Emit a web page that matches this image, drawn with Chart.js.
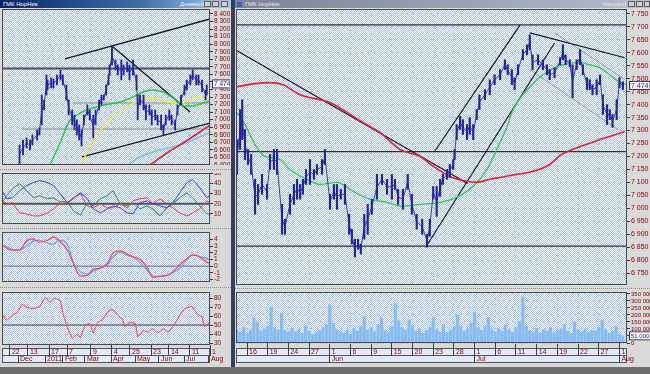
<!DOCTYPE html>
<html lang="ru">
<head>
<meta charset="utf-8">
<title>ГМК НорНик</title>
<script src="https://cdn.jsdelivr.net/npm/chart.js@4.4.1/dist/chart.umd.min.js"></script>
<style>
  html, body { margin: 0; padding: 0; }
  body { width: 650px; height: 374px; overflow: hidden; position: relative; background: #c4c4c4;
         font-family: 'Liberation Sans', 'DejaVu Sans', sans-serif; }
  .abs { position: absolute; }
  .win { top: 0; height: 367px; background: #d9d9d9; }
  .title { top: 0; height: 8px; font-size: 6px; line-height: 8px; white-space: nowrap; overflow: hidden; }
  .btn { top: 1px; width: 7px; height: 6px; background: #d4d0c8; border: 1px solid #606060; box-sizing: border-box; }
  .strip { background: #e2e9fa; border: 1px solid #555; box-sizing: border-box; }
  .sep { height: 0; border-top: 1px dotted #8a8a8a; }
  canvas { position: absolute; }
</style>
</head>
<body>
<div class="abs win" style="left:0;width:231px"></div>
<div class="abs win" style="left:234px;width:416px"></div>
<div class="abs" style="left:231px;top:0;width:4px;height:367px;background:#34405a"></div>

<div class="abs title" style="left:0;width:231px;background:linear-gradient(90deg,#0a246a,#3a6ea5 60%,#a6caf0);color:#fff">
  <span style="padding-left:3px">ГМК НорНик</span>
  <span style="position:absolute;right:27px;color:#f0f0f0">Дневной</span>
</div>
<div class="abs btn" style="left:204px"></div>
<div class="abs btn" style="left:212px"></div>
<div class="abs btn" style="left:221px"></div>

<div class="abs title" style="left:235px;width:415px;background:linear-gradient(90deg,#7a8296,#b4bccc);color:#e8e8e8">
  <span style="display:inline-block;width:5px;height:5px;margin:0 3px 0 2px;background:#4060c0;vertical-align:middle"></span>ГМК НорНик
  <span style="position:absolute;right:24px">Часовой</span>
</div>
<div class="abs btn" style="left:628px"></div>
<div class="abs btn" style="left:636px"></div>
<div class="abs btn" style="left:644px;width:6px"></div>

<div class="abs sep" style="left:0;top:169px;width:231px"></div>
<div class="abs sep" style="left:0;top:228px;width:231px"></div>
<div class="abs sep" style="left:0;top:287px;width:231px"></div>
<div class="abs sep" style="left:235px;top:288px;width:415px"></div>

<div class="abs strip" style="left:2px;top:348px;width:208px;height:8px"></div>
<div class="abs strip" style="left:2px;top:355px;width:208px;height:8px"></div>
<div class="abs strip" style="left:236px;top:348px;width:391px;height:8px"></div>
<div class="abs strip" style="left:236px;top:355px;width:391px;height:8px"></div>
<div class="abs" style="left:0;top:367px;width:650px;height:7px;background:#6e6e6e"></div>

<canvas id="lp" width="228" height="156" style="left:2px;top:9px"></canvas>
<canvas id="lo1" width="228" height="51" style="left:2px;top:173px"></canvas>
<canvas id="lo2" width="228" height="50" style="left:2px;top:232px"></canvas>
<canvas id="lr" width="228" height="71" style="left:2px;top:292px"></canvas>
<canvas id="rp" width="414" height="276" style="left:236px;top:9px"></canvas>
<canvas id="rv" width="414" height="71" style="left:236px;top:292px"></canvas>

<script>
// ---------- daily window (left) ----------
var dayTickIdx = [6.8, 22.2, 40.2, 55.6, 76, 94, 109.4, 127.4, 142.7, 160.7, 177.8];
var dayTickLabels = ['22', '13', '17', '7', '9', '4', '25', '23', '14', '11', '1'];
var monthTickIdx = [13.7, 36.8, 52.1, 70.9, 93.2, 113.7, 134.2, 155.6, 176.9];
var monthTickLabels = ['Dec', '2011', 'Feb', 'Mar', 'Apr', 'May', 'Jun', 'Jul', 'Aug'];
var dayPriceTicks = [6400, 6500, 6600, 6700, 6800, 6900, 7000, 7100, 7200, 7300, 7400, 7500,
  7600, 7700, 7800, 7900, 8000, 8100, 8200, 8300, 8400];

var dayBarIdx = [15, 18, 21, 24, 26, 30, 32, 34, 36, 38, 39, 42, 44, 47, 50, 52, 55, 57, 60, 62,
  64, 66, 68, 70, 73, 75, 78, 80, 83, 85, 87, 89, 91, 92, 94, 97, 99, 102, 104, 107,
  109, 112, 115, 116, 118, 121, 123, 126, 128, 131, 133, 136, 138, 140, 143, 145, 148, 150, 153, 156,
  158, 161, 163, 166, 168, 171, 174, 175];
var dayBarHigh = [6665, 6731, 6758, 6731, 6797, 6864, 6890, 7327, 7261, 7592, 7526, 7552, 7540, 7592, 7658, 7592, 7460, 7261, 7129, 7062,
  6996, 6930, 6864, 7062, 7195, 7129, 7062, 7129, 7261, 7327, 7327, 7460, 7592, 7725, 7976, 7791, 7725, 7791, 7725, 7764,
  7725, 7791, 7592, 7327, 7327, 7327, 7195, 7195, 7129, 7129, 7062, 7062, 6930, 7062, 7129, 7062, 6996, 7195, 7327, 7460,
  7526, 7592, 7658, 7592, 7592, 7526, 7393, 7460];
var dayBarLow = [6420, 6532, 6625, 6599, 6665, 6731, 6797, 6930, 7129, 7327, 7393, 7420, 7420, 7460, 7526, 7460, 7261, 7062, 6930, 6864,
  6797, 6731, 6652, 6930, 7062, 6996, 6758, 6930, 7129, 7195, 7261, 7327, 7460, 7592, 7725, 7658, 7592, 7526, 7592, 7632,
  7526, 7592, 7393, 6996, 7195, 7129, 6996, 7062, 6930, 6996, 6930, 6864, 6797, 6930, 6996, 6930, 6864, 7062, 7195, 7327,
  7393, 7460, 7526, 7460, 7460, 7367, 7261, 7327];

var dayGreenMA = [[41, 6400], [49.6, 6691], [58.1, 6996], [64.1, 7062], [72.6, 7129], [83.8, 7181], [92.3, 7208],
  [100.9, 7234], [112, 7301], [120.5, 7367], [129.1, 7393], [137.6, 7367], [146.2, 7287], [154.7, 7181],
  [163.2, 7181], [171.8, 7221], [177.8, 7248]];
var dayYellowMA = [[68.4, 6427], [77.8, 6731], [92.3, 6996], [106.8, 7168], [117.9, 7261], [129.1, 7287],
  [141, 7234], [152.1, 7221], [160.7, 7261], [169.2, 7301], [177.8, 7327]];
var dayRedMA = [[126.5, 6400], [141, 6559], [154.7, 6691], [169.2, 6837], [177.8, 6930]];
var dayBlueMA = [[107.7, 6400], [117.9, 6506], [135, 6599], [152.1, 6665], [169.2, 6771], [177.8, 6837]];
var dayTrendLines = [[[53.8, 7804], [177.8, 8334]], [[94, 7976], [160.7, 7102]], [[68.4, 6506], [177.8, 6956]]];
var dayHeavyLevel = 7678;
var dayLightLevels = [[60.7, 7221], [17.1, 6877]];
var lastPrice = 7474;

var oscIdx = [0, 4, 9, 15, 21, 27, 32, 39, 44, 49, 56, 61, 67, 73, 78, 84, 90, 95, 101, 107,
  112, 118, 124, 129, 135, 141, 146, 152, 158, 163, 169, 175, 178];
var dmiBlue = [33, 25, 26, 33, 38, 41, 43, 41, 38, 31, 21, 25, 31, 25, 15, 11, 15, 18, 16, 11,
  10, 21, 23, 20, 18, 16, 21, 31, 41, 44, 36, 26, 28];
var dmiGreen = [21, 28, 35, 40, 33, 26, 28, 25, 26, 22, 22, 13, 9, 21, 18, 25, 28, 33, 20, 18,
  21, 15, 18, 15, 8, 16, 20, 26, 31, 26, 18, 10, 10];
var dmiRed = [23, 20, 21, 11, 10, 8, 8, 11, 15, 20, 21, 26, 30, 18, 16, 20, 16, 16, 20, 16,
  23, 25, 26, 20, 25, 20, 16, 11, 8, 11, 15, 23, 21];
var macdRed = [3.2, 2.7, 2.4, 2.4, 3.8, 4.1, 3.6, 3.9, 4.4, 3.8, 2.4, 0.4, -1.5, -1.4, -0.5, -0.3, 0.4, 2.0, 2.3, 1.8,
  1.4, 1.0, -0.2, -1.7, -1.5, -1.4, -0.9, 0.2, 1.1, 1.7, 1.4, 0.6, 0.4];
var macdBlue = [3.2, 2.9, 2.5, 2.4, 3.0, 3.8, 3.9, 3.5, 3.3, 3.9, 3.2, 0.5, -0.9, -1.2, -0.8, -0.3, 0.2, 1.4, 2.1, 1.6,
  1.4, 0.6, -0.6, -1.5, -1.6, -1.4, -1.0, -0.3, 1.0, 1.7, 1.4, 1.2, 0.9];
var rsi = [[0, 62], [4, 55], [9, 61], [13, 64], [17, 73], [21, 70], [26, 68], [32, 70], [37, 81], [41, 75],
  [45, 80], [50, 77], [52, 63], [56, 47], [60, 35], [64, 40], [67, 36], [71, 50], [75, 52], [78, 41],
  [82, 53], [86, 56], [90, 64], [94, 68], [98, 62], [103, 56], [105, 48], [109, 53], [114, 52], [116, 37],
  [121, 44], [125, 42], [129, 46], [133, 41], [138, 46], [142, 42], [146, 48], [152, 61], [156, 68], [162, 71],
  [167, 62], [171, 59], [173, 48], [178, 53]];

// ---------- hourly window (right) ----------
var hourTickDay = [0, 3, 6, 9, 12, 15, 18, 21, 24, 27, 30, 33, 36, 39, 42, 45, 48, 51, 54];
var hourTickLabels = ['16', '19', '24', '27', '1', '6', '9', '15', '20', '23', '28', '1', '6', '11', '14', '19', '22', '27', '1'];
var hourMonthDay = [12, 33, 54];
var hourMonthLabels = ['Jun', 'Jul', 'Aug'];
var hourPriceTicks = [6750, 6800, 6850, 6900, 6950, 7000, 7050, 7100, 7150, 7200, 7250, 7300, 7350, 7400,
  7450, 7500, 7550, 7600, 7650, 7700, 7750];
var volumeTicks = [0, 50000, 100000, 150000, 200000, 250000, 300000, 350000];

var hourBarDay = [-1.45, -1.0, -0.7, -0.3, 0.14, 0.6, 1.16, 1.6, 2.17, 2.9, 3.33, 3.9, 4.35, 5.07, 5.5, 6.23, 6.8, 7.25, 7.7, 8.1,
  8.55, 9.13, 9.7, 10.14, 10.87, 11.3, 12.03, 12.6, 13.04, 13.6, 14.2, 14.8, 15.2, 15.65, 16.1, 16.5, 17.0, 17.5, 18.1, 18.84,
  19.57, 20.3, 21.0, 21.45, 21.9, 22.6, 23.3, 23.9, 24.6, 25.4, 26.1, 26.5, 27.0, 27.5, 28.0, 28.4, 29.0, 29.4, 29.9, 30.1,
  30.4, 30.9, 31.3, 31.9, 32.3, 32.8, 33.3, 33.7, 34.5, 35.2, 35.9, 36.7, 37.4, 37.8, 38.4, 38.8, 39.3, 40.0, 40.6, 41.0,
  41.4, 42.2, 42.9, 43.5, 43.9, 44.6, 45.4, 45.8, 46.2, 46.8, 47.2, 47.8, 48.3, 48.7, 49.3, 49.7, 50.1, 50.7, 51.2, 51.6,
  52.2, 52.6, 53.0, 53.6, 54.0, 54.5];
var hourBarHigh = [7265, 7381, 7419, 7304, 7227, 7208, 7112, 7092, 7131, 7092, 7208, 7227, 7227, 7015, 6958, 7054, 7092, 7112, 7092, 7112,
  7150, 7188, 7150, 7169, 7188, 7227, 7054, 7092, 7092, 7073, 7092, 6977, 6919, 6881, 6881, 6862, 6977, 7015, 7035, 7131,
  7131, 7112, 7131, 7112, 7073, 7073, 7131, 7054, 6977, 6958, 6900, 6958, 7084, 7084, 7112, 7131, 7150, 7169, 7188, 7227,
  7323, 7354, 7342, 7323, 7350, 7323, 7381, 7438, 7458, 7496, 7515, 7535, 7573, 7554, 7535, 7504, 7554, 7612, 7631, 7669,
  7592, 7592, 7573, 7554, 7535, 7542, 7581, 7631, 7592, 7573, 7554, 7573, 7612, 7554, 7504, 7496, 7477, 7496, 7515, 7438,
  7400, 7381, 7362, 7419, 7504, 7488];
var hourBarLow = [7131, 7227, 7265, 7188, 7169, 7131, 6977, 7015, 7054, 7035, 7150, 7150, 7131, 6900, 6900, 6977, 7015, 7035, 7035, 7054,
  7092, 7092, 7112, 7131, 7131, 7169, 6996, 7035, 6996, 7035, 7015, 6900, 6862, 6812, 6842, 6823, 6881, 6900, 6977, 7035,
  7092, 7054, 7035, 7073, 7015, 6996, 7073, 6977, 6919, 6900, 6850, 6892, 7035, 6969, 7046, 7092, 7112, 7119, 7150, 7188,
  7265, 7304, 7285, 7265, 7285, 7265, 7342, 7381, 7419, 7438, 7477, 7496, 7535, 7515, 7477, 7458, 7515, 7573, 7592, 7612,
  7535, 7554, 7535, 7515, 7496, 7504, 7554, 7573, 7554, 7546, 7427, 7535, 7554, 7515, 7458, 7458, 7438, 7438, 7477, 7362,
  7323, 7342, 7312, 7342, 7465, 7458];

var hourRedMA = [[-1.45, 7469], [1.16, 7481], [3.33, 7485], [5.2, 7477], [7.7, 7438], [12.0, 7408], [16.8, 7331],
  [19.3, 7292], [22.2, 7227], [25.1, 7200], [27.0, 7162], [29.4, 7123], [31.9, 7104], [33.3, 7100], [35.2, 7112],
  [36.7, 7119], [39.1, 7131], [41.4, 7142], [43.9, 7169], [45.4, 7204], [48.3, 7238], [51.2, 7265], [54.8, 7296]];
var hourGreenMA = [[-1.45, 7369], [-0.3, 7323], [1.16, 7246], [2.6, 7200], [4.8, 7188], [6.2, 7150], [8.7, 7112],
  [10.6, 7092], [13.0, 7100], [15.4, 7065], [17.8, 7035], [20.3, 7023], [22.6, 7008], [25.1, 7015], [28.0, 7023],
  [30.4, 7042], [32.8, 7085], [34.8, 7150], [36.2, 7227], [37.7, 7315], [38.6, 7381], [41.0, 7469], [43.5, 7527],
  [45.8, 7554], [48.3, 7562], [49.7, 7554], [51.2, 7542], [52.6, 7515], [54.0, 7488], [55.1, 7477]];
var hourTrendLines = [[[-1.45, 7608], [32.0, 7096]], [[27.2, 7219], [39.6, 7708]], [[26.2, 6862], [44.6, 7638]],
  [[41.0, 7677], [54.8, 7581]]];
var hourChannelLines = [[[41.0, 7535], [53.8, 7304]], [[44.6, 7677], [54.8, 7496]]];
var hourLevels = [7708, 7219, 6854];

var hourVolume = [95000, 80000, 110000, 70000, 90000, 180000, 150000, 85000, 100000, 120000,
  257000, 110000, 95000, 214000, 90000, 75000, 105000, 80000, 95000, 70000,
  120000, 85000, 60000, 75000, 90000, 110000, 130000, 270000, 140000, 95000,
  80000, 70000, 90000, 65000, 100000, 85000, 120000, 190000, 95000, 110000,
  80000, 130000, 180000, 90000, 75000, 120000, 280000, 160000, 110000, 95000,
  165000, 120000, 85000, 100000, 70000, 90000, 110000, 180000, 95000, 80000,
  130000, 75000, 90000, 115000, 200000, 120000, 85000, 100000, 140000, 220000,
  110000, 90000, 120000, 180000, 95000, 80000, 100000, 85000, 130000, 90000,
  75000, 110000, 150000, 330000, 120000, 90000, 80000, 105000, 70000, 95000,
  85000, 110000, 75000, 90000, 100000, 130000, 85000, 70000, 150000, 95000,
  80000, 100000, 75000, 90000, 85000, 110000, 160000, 95000, 70000, 85000,
  120000, 60000, 51000];
var volumeFirstDay = -1.5;
var volumeStep = 0.5;

// ---------- drawing ----------
var FONT = "'Liberation Sans', 'DejaVu Sans', sans-serif";
var MAROON = '#800000';
var GRID = '#b0c2e8';
var dayMin = 0, dayMax = 177.8;
var hourMin = -1.6, hourMax = 55.1;

function fmtNum(v) {
  var a = Math.abs(v);
  if (a < 1000) return String(v);
  return (v < 0 ? '-' : '') + Math.floor(a / 1000) + ' ' + String(Math.round(a % 1000)).padStart(3, '0');
}

var dither = document.createElement('canvas');
dither.width = 2;
dither.height = 2;
(function () {
  var g = dither.getContext('2d');
  g.fillStyle = '#ffffff';
  g.fillRect(0, 0, 2, 2);
  g.fillStyle = '#a6c0f2';
  g.fillRect(0, 0, 1, 1);
  g.fillRect(1, 1, 1, 1);
})();

var panelPlugin = {
  id: 'panel',
  beforeDraw: function (chart) {
    var ctx = chart.ctx, a = chart.chartArea;
    ctx.save();
    ctx.fillStyle = ctx.createPattern(dither, 'repeat');
    ctx.fillRect(a.left, a.top, a.width, a.height);
    ctx.restore();
  },
  afterDraw: function (chart, args, opts) {
    var ctx = chart.ctx, a = chart.chartArea;
    ctx.save();
    ctx.strokeStyle = '#4a4a4a';
    ctx.lineWidth = 1;
    ctx.strokeRect(Math.round(a.left) + 0.5, Math.round(a.top) + 0.5, Math.round(a.width) - 1, Math.round(a.height) - 1);
    if (opts.last != null) {
      var y = chart.scales.y.getPixelForValue(opts.last);
      var txt = fmtNum(opts.last);
      ctx.font = (opts.size || 7) + 'px ' + FONT;
      var w = ctx.measureText(txt).width + 4;
      ctx.fillStyle = '#ffffff';
      ctx.fillRect(a.right + 2, y - 4.5, w, 9);
      ctx.strokeStyle = '#303070';
      ctx.strokeRect(a.right + 2.5, y - 4, w - 1, 8);
      ctx.fillStyle = '#202060';
      ctx.textBaseline = 'middle';
      ctx.fillText(txt, a.right + 4, y + 0.5);
    }
    ctx.restore();
  }
};

function setTicks(values) {
  return function (s) { s.ticks = values.map(function (v) { return { value: v }; }); };
}

function yAxis(min, max, ticks, width, size) {
  return {
    position: 'right', min: min, max: max,
    afterBuildTicks: setTicks(ticks),
    afterFit: function (s) { s.width = width; s.paddingTop = 0; s.paddingBottom = 0; },
    grid: { color: GRID, tickColor: '#3a3a3a', tickLength: 3 },
    border: { display: false, dash: [1, 2] },
    ticks: { autoSkip: false, padding: 1, color: MAROON, font: { family: FONT, size: size || 7 },
      callback: function (v) { return fmtNum(v); } }
  };
}

function xGridAxis(min, max, ticks) {
  return {
    type: 'linear', position: 'bottom', min: min, max: max, offset: false,
    afterBuildTicks: setTicks(ticks),
    afterFit: function (s) { s.height = 0; s.paddingLeft = 0; s.paddingRight = 0; },
    grid: { color: GRID, drawTicks: false, offset: false },
    border: { display: false, dash: [1, 2] },
    ticks: { display: false }
  };
}

function xLabelAxis(min, max, ticks, labels, height, pad, weight, onArea) {
  return {
    type: 'linear', position: 'bottom', min: min, max: max, offset: false, weight: weight,
    afterBuildTicks: setTicks(ticks),
    afterFit: function (s) { s.height = height; s.paddingLeft = 0; s.paddingRight = 0; },
    grid: { color: GRID, drawOnChartArea: onArea, tickColor: '#404040', tickLength: height, offset: false },
    border: { display: false, dash: [1, 2] },
    ticks: { autoSkip: false, maxRotation: 0, minRotation: 0, align: 'start', labelOffset: 2, padding: pad,
      color: MAROON, font: { family: FONT, size: 7 },
      callback: function (v, i) { return labels[i]; } }
  };
}

function pts(pairs) {
  return pairs.map(function (p) { return { x: p[0], y: p[1] }; });
}

function lineDs(data, color, width, order, smooth, xAxis) {
  return { type: 'line', data: data, borderColor: color, borderWidth: width, pointRadius: 0,
    cubicInterpolationMode: smooth ? 'monotone' : 'default', tension: 0, order: order, xAxisID: xAxis || 'x' };
}

function barDs(xs, hi, lo, color, thick, order) {
  return { type: 'bar', data: xs.map(function (x, i) { return { x: x, y: [lo[i], hi[i]] }; }),
    backgroundColor: color, barThickness: thick, order: order };
}

function midDs(xs, hi, lo, color, order) {
  return lineDs(xs.map(function (x, i) { return { x: x, y: (hi[i] + lo[i]) / 2 }; }), color, 1, order, false);
}

function makeChart(id, datasets, scales, panelOpts) {
  return new Chart(document.getElementById(id), {
    type: 'line',
    data: { datasets: datasets },
    options: {
      responsive: false, animation: false, events: [],
      layout: { padding: 0 },
      plugins: { legend: { display: false }, tooltip: { enabled: false }, panel: panelOpts || {} },
      scales: scales
    },
    plugins: [panelPlugin]
  });
}

// left: daily price
var lpSets = [
  barDs(dayBarIdx, dayBarHigh, dayBarLow, '#23239c', 1.2, 0),
  midDs(dayBarIdx, dayBarHigh, dayBarLow, '#3a3ac0', 0),
  lineDs(pts(dayGreenMA), '#22d022', 1.4, 1, true),
  lineDs(pts(dayYellowMA), '#f2f21e', 1.4, 1, true),
  lineDs(pts(dayRedMA), '#e82020', 1.6, 1, true),
  lineDs(pts(dayBlueMA), '#7cbcf2', 1.4, 1, true),
  lineDs(pts([[dayMin, dayHeavyLevel], [dayMax, dayHeavyLevel]]), '#505050', 2, 3)
];
dayTrendLines.forEach(function (t) { lpSets.push(lineDs(pts(t), '#181818', 1.3, 2)); });
dayLightLevels.forEach(function (l) { lpSets.push(lineDs(pts([l, [dayMax, l[1]]]), '#8c8c8c', 1.2, 3)); });
makeChart('lp', lpSets, {
  x: xGridAxis(dayMin, dayMax, dayTickIdx),
  y: yAxis(6400, 8466, dayPriceTicks, 20, 6.5)
}, { last: lastPrice, size: 6.5 });

// left: directional movement
function oscPts(vals) { return vals.map(function (v, i) { return { x: oscIdx[i], y: v }; }); }
makeChart('lo1', [
  lineDs(oscPts(dmiBlue), '#3a3aff', 1, 0),
  lineDs(oscPts(dmiGreen), '#2f8f2f', 1, 0),
  lineDs(oscPts(dmiRed), '#ff3030', 1, 0),
  lineDs(pts([[dayMin, 20], [dayMax, 20]]), '#505050', 2, 3)
], {
  x: xGridAxis(dayMin, dayMax, dayTickIdx),
  y: yAxis(0, 50.5, [10, 20, 30, 40, 50], 20, 6.5)
});

// left: MACD
makeChart('lo2', [
  lineDs(oscPts(macdRed), '#ff4040', 1.2, 0, true),
  lineDs(oscPts(macdBlue), '#5aa8ff', 1.2, 1, true),
  lineDs(pts([[dayMin, 0], [dayMax, 0]]), '#6a6a80', 1, 3)
], {
  x: xGridAxis(dayMin, dayMax, dayTickIdx),
  y: yAxis(-2.4, 5.15, [-2, -1, 0, 1, 2, 3, 4], 20, 6.5)
});

// left: RSI + date strip
makeChart('lr', [
  lineDs(pts(rsi), '#ff4040', 1, 0),
  lineDs(pts([[dayMin, 50], [dayMax, 50]]), '#404040', 1, 3)
], {
  x: xLabelAxis(dayMin, dayMax, dayTickIdx, dayTickLabels, 11, -8.2, 1, true),
  x2: xLabelAxis(dayMin, dayMax, monthTickIdx, monthTickLabels, 7, -7.7, 2, false),
  y: yAxis(27.8, 86.7, [30, 40, 50, 60, 70, 80], 20, 6.5)
});

// right: hourly price
var rpSets = [
  barDs(hourBarDay, hourBarHigh, hourBarLow, '#23239c', 1.5, 0),
  midDs(hourBarDay, hourBarHigh, hourBarLow, '#3a3ac0', 0),
  lineDs(pts(hourRedMA), '#e82020', 1.6, 1, true),
  lineDs(pts(hourGreenMA), '#30d030', 1.3, 1, true)
];
hourTrendLines.forEach(function (t) { rpSets.push(lineDs(pts(t), '#181818', 1.2, 2)); });
hourChannelLines.forEach(function (t) { rpSets.push(lineDs(pts(t), '#8a8a8a', 0.8, 2)); });
hourLevels.forEach(function (v) { rpSets.push(lineDs(pts([[hourMin, v], [hourMax, v]]), '#303030', 1.3, 3)); });
makeChart('rp', rpSets, {
  x: xGridAxis(hourMin, hourMax, hourTickDay),
  y: yAxis(6704, 7769, hourPriceTicks, 23, 7)
}, { last: lastPrice, size: 7 });

// right: volume + date strip
makeChart('rv', [{
  type: 'bar',
  data: hourVolume.map(function (v, i) { return { x: volumeFirstDay + i * volumeStep, y: v }; }),
  backgroundColor: '#86bcf0', barThickness: 2.5, order: 0
}], {
  x: xLabelAxis(hourMin, hourMax, hourTickDay, hourTickLabels, 13, -8.2, 1, true),
  x2: xLabelAxis(hourMin, hourMax, hourMonthDay, hourMonthLabels, 7, -7.7, 2, false),
  y: yAxis(0, 364000, volumeTicks, 23, 6)
}, { last: hourVolume[hourVolume.length - 1], size: 6 });
</script>
</body>
</html>
